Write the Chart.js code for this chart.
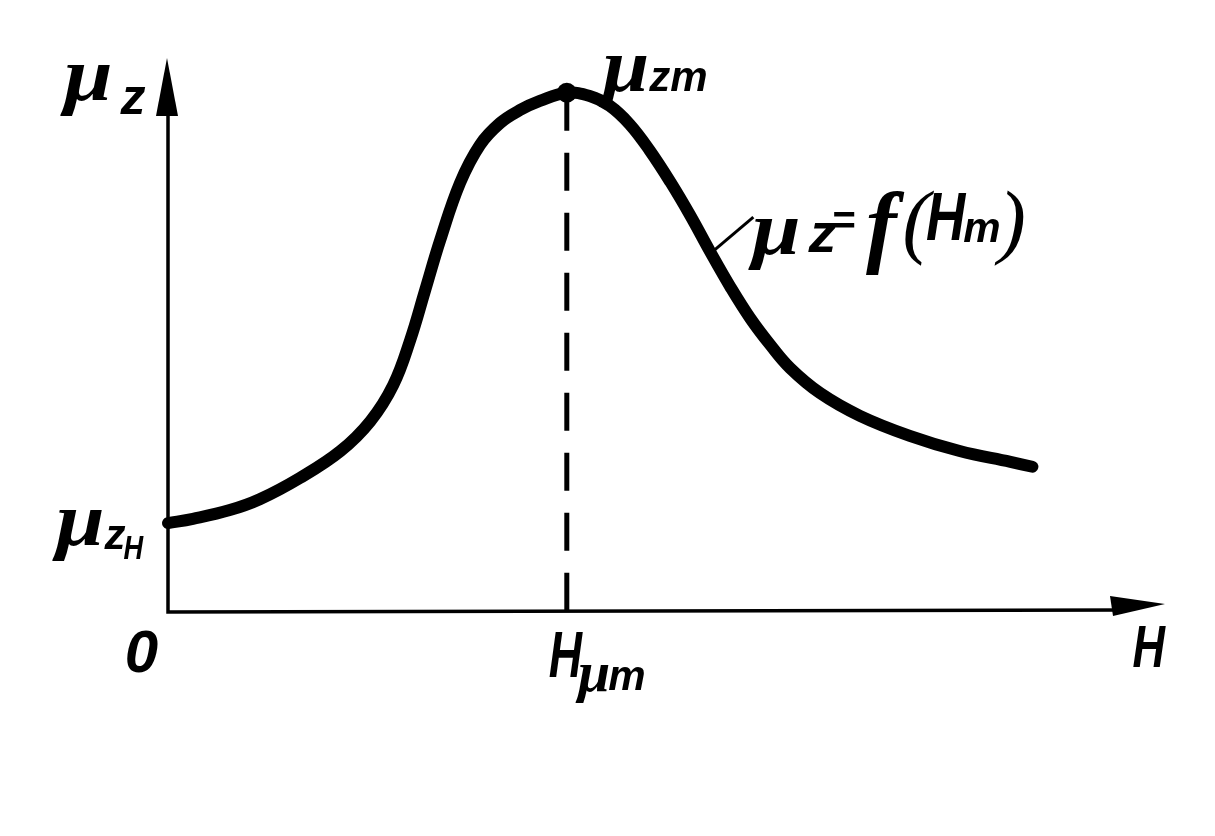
<!DOCTYPE html>
<html><head><meta charset="utf-8">
<script src="https://cdn.jsdelivr.net/npm/chart.js@4/dist/chart.umd.min.js"></script>
<style>html,body{margin:0;padding:0;background:#fff;}canvas{display:block;}</style>
</head><body>
<canvas id="c" width="1215" height="836"></canvas>
<script>
// H (arbitrary units) and permeability mu_z
const hValues  = [0, 0.25, 0.62, 0.92, 1.32, 1.73, 2.03, 2.26, 2.43, 2.58, 2.73, 2.93, 3.13, 3.33, 3.53, 3.73, 4.00, 4.23, 4.43, 4.63, 4.83, 5.04, 5.24, 5.44, 5.64, 5.84, 6.04, 6.24, 6.54, 6.94, 7.44, 7.94, 8.45, 8.67];
const muValues = [1.64, 1.72, 1.88, 2.08, 2.47, 2.97, 3.52, 4.19, 5.02, 5.94, 6.86, 7.92, 8.62, 9.02, 9.26, 9.43, 9.58, 9.52, 9.34, 9.00, 8.52, 7.93, 7.31, 6.64, 6.00, 5.42, 4.93, 4.50, 4.04, 3.62, 3.25, 2.97, 2.77, 2.68];
const peakIndex = 16;      // H_mu_m, mu_zm
const leaderIndex = 23;    // where the formula label points to the curve
const xRange = [0, 10];
const yRange = [0, 10];

const SERIF = "'Liberation Serif'";
const SANS = "'Liberation Sans'";

function run(ctx, x, y, pieces) {
  for (const p of pieces) {
    ctx.font = p.f;
    const dx = p.dx || 0, dy = p.dy || 0, sx = p.sx || 1;
    ctx.save();
    ctx.translate(x + dx, y + dy);
    ctx.scale(sx, 1);
    ctx.fillText(p.t, 0, 0);
    ctx.restore();
    x += dx + ctx.measureText(p.t).width * sx + (p.gap || 0);
  }
}

const curve = hValues.map((h, i) => ({x: h, y: muValues[i]}));
const peak = {x: hValues[peakIndex], y: muValues[peakIndex]};

const decor = {
  id: 'decor',
  beforeDatasetsDraw(chart) {
    const ctx = chart.ctx, xs = chart.scales.x, ys = chart.scales.y;
    const x0 = xs.getPixelForValue(xRange[0]), x1 = xs.getPixelForValue(xRange[1]);
    const y0 = ys.getPixelForValue(yRange[0]), y1 = ys.getPixelForValue(yRange[1]);
    ctx.save();
    ctx.strokeStyle = '#000'; ctx.fillStyle = '#000';
    ctx.lineWidth = 3.5; ctx.lineCap = 'butt';
    ctx.beginPath();
    ctx.moveTo(x0, y1 + 30); ctx.lineTo(x0, y0); ctx.lineTo(x1 - 40, y0 - 2);
    ctx.stroke();
    // y arrow
    ctx.beginPath();
    ctx.moveTo(x0 - 1, y1 - 12);
    ctx.lineTo(x0 + 10, y1 + 46);
    ctx.lineTo(x0 - 12, y1 + 46);
    ctx.closePath(); ctx.fill();
    // x arrow
    ctx.beginPath();
    ctx.moveTo(x1, y0 - 8);
    ctx.lineTo(x1 - 55, y0 - 16);
    ctx.lineTo(x1 - 52, y0 + 4);
    ctx.closePath(); ctx.fill();
    ctx.restore();
  },
  afterDatasetsDraw(chart) {
    const ctx = chart.ctx, xs = chart.scales.x, ys = chart.scales.y;
    const x0 = xs.getPixelForValue(xRange[0]), x1 = xs.getPixelForValue(xRange[1]);
    const y0 = ys.getPixelForValue(yRange[0]), y1 = ys.getPixelForValue(yRange[1]);
    const px = xs.getPixelForValue(peak.x), py = ys.getPixelForValue(peak.y);
    const sy = ys.getPixelForValue(muValues[0]);
    const lx = xs.getPixelForValue(hValues[leaderIndex]), ly = ys.getPixelForValue(muValues[leaderIndex]);
    ctx.save();
    ctx.fillStyle = '#000'; ctx.strokeStyle = '#000';
    ctx.textBaseline = 'alphabetic'; ctx.textAlign = 'left';
    const MU = `bold italic 76px ${SERIF}`;
    const SUB = (s) => `bold italic ${s}px ${SANS}`;
    // axis label mu_z
    run(ctx, x0 - 104, y1 + 30, [
      {t: 'μ', f: MU, sx: 1.15},
      {t: 'z', f: SUB(50), dy: 14, dx: 8}
    ]);
    // peak label mu_zm
    run(ctx, px + 36, py - 2, [
      {t: 'μ', f: MU, sx: 1.1},
      {t: 'zm', f: SUB(42), dx: 0}
    ]);
    // formula label
    run(ctx, 752, 254, [
      {t: 'μ', f: MU, sx: 1.15},
      {t: 'z', f: SUB(56), dy: -2, dx: 8},
      {t: '=', f: `bold 40px ${SANS}`, dy: -20, dx: -4, gap: 10},
      {t: 'f', f: `bold italic 92px ${SERIF}`, dy: 2, gap: 12},
      {t: '(', f: `italic 82px ${SERIF}`, dy: -6, dx: -6},
      {t: 'H', f: SUB(68), dy: -14, dx: -4, sx: 0.8},
      {t: 'm', f: SUB(42), dy: -12, dx: -2},
      {t: ')', f: `italic 82px ${SERIF}`, dy: -6, dx: -2}
    ]);
    // leader line
    ctx.lineWidth = 3;
    ctx.beginPath();
    ctx.moveTo(lx + 4, ly - 2);
    ctx.lineTo(lx + 43, ly - 35);
    ctx.stroke();
    // mu_zH on the y axis
    run(ctx, x0 - 112, sy + 22, [
      {t: 'μ', f: MU, sx: 1.15},
      {t: 'z', f: SUB(42), dy: 4, dx: 0},
      {t: 'H', f: SUB(34), dy: 14, dx: -2, sx: 0.8}
    ]);
    // origin
    ctx.textAlign = 'right';
    ctx.font = SUB(60);
    ctx.fillText('0', x0 - 10, y0 + 60);
    // H axis label
    ctx.save();
    ctx.translate(x1, y0 + 55);
    ctx.scale(0.75, 1);
    ctx.fillText('H', 0, 0);
    ctx.restore();
    ctx.textAlign = 'left';
    // H_mu_m
    run(ctx, px - 18, y0 + 65, [
      {t: 'H', f: SUB(64), sx: 0.72},
      {t: 'μ', f: `bold italic 58px ${SERIF}`, dy: 14, dx: -4},
      {t: 'm', f: SUB(42), dy: 13, dx: -2}
    ]);
    ctx.restore();
  }
};

new Chart(document.getElementById('c'), {
  type: 'scatter',
  data: {
    datasets: [
      {
        data: curve, showLine: true, borderColor: '#000', borderWidth: 12,
        pointRadius: 0, tension: 0.4, clip: false,
        borderCapStyle: 'round', borderJoinStyle: 'round'
      },
      {
        data: [peak, {x: peak.x, y: yRange[0]}], showLine: true,
        borderColor: '#000', borderWidth: 5, borderDash: [38, 22],
        pointRadius: 0, clip: false
      },
      {
        data: [peak], pointRadius: 10, pointBackgroundColor: '#000',
        pointBorderWidth: 0, showLine: false, clip: false
      }
    ]
  },
  options: {
    responsive: false, animation: false, devicePixelRatio: 1,
    layout: {padding: {left: 168, right: 50, top: 70, bottom: 224}},
    plugins: {legend: {display: false}, tooltip: {enabled: false}},
    scales: {
      x: {type: 'linear', min: xRange[0], max: xRange[1], display: false},
      y: {type: 'linear', min: yRange[0], max: yRange[1], display: false}
    }
  },
  plugins: [decor]
});
</script>
</body></html>
